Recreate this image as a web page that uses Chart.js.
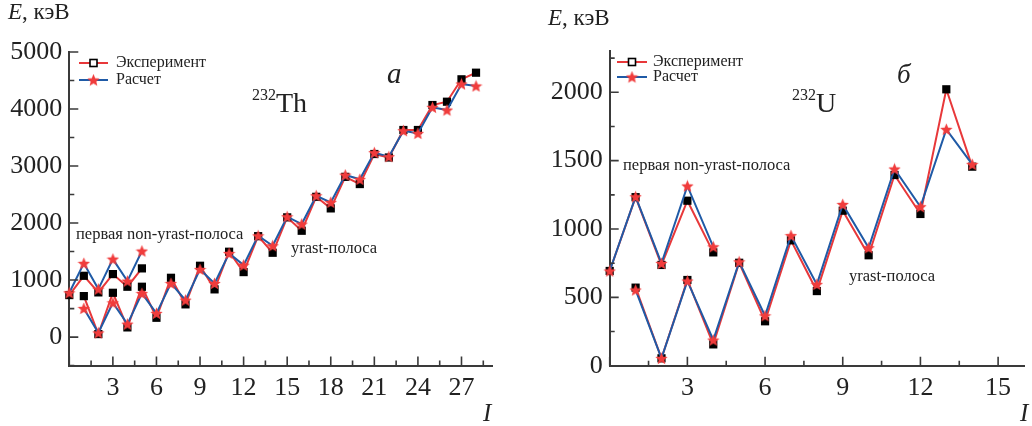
<!DOCTYPE html>
<html>
<head>
<meta charset="utf-8">
<script src="https://cdn.jsdelivr.net/npm/chart.js@4.4.1/dist/chart.umd.min.js"></script>
<style>
  html, body { margin: 0; padding: 0; background: #fff; }
  #wrap { position: relative; width: 1032px; height: 426px; overflow: hidden; }
  canvas { position: absolute; top: 0; }
</style>
</head>
<body>
<div id="wrap">
  <canvas id="thChart" width="500" height="426" style="left:0"></canvas>
  <canvas id="uChart" width="532" height="426" style="left:500px"></canvas>
</div>
<script>
// ---- 232Th (panel a) ----
const thUpperI    = [0, 1, 2, 3, 4, 5];
const thUpperExp  = [737, 1075, 784, 1105, 883, 1205];
const thUpperCalc = [777, 1293, 842, 1368, 982, 1509];
const thLowerI    = [1, 2, 3, 4, 5, 6, 7, 8, 9, 10, 11, 12, 13, 14, 15, 16, 17, 18, 19, 20, 21, 22, 23, 24, 25, 26, 27, 28];
const thLowerExp  = [719, 53, 777, 170, 883, 339, 1040, 574, 1251, 837, 1497, 1140, 1770, 1479, 2100, 1865, 2460, 2257, 2810, 2684, 3211, 3150, 3632, 3632, 4070, 4128, 4521, 4637];
const thLowerCalc = [503, 75, 602, 228, 766, 416, 942, 649, 1187, 942, 1468, 1263, 1777, 1602, 2111, 1982, 2479, 2363, 2842, 2767, 3235, 3164, 3620, 3573, 4030, 3982, 4439, 4404];
const thXLabels = [3, 6, 9, 12, 15, 18, 21, 24, 27];
const thYLabels = [0, 1000, 2000, 3000, 4000, 5000];

// ---- 232U (panel б) ----
const uUpperI    = [0, 1, 2, 3, 4];
const uUpperExp  = [693, 1233, 737, 1207, 829];
const uUpperCalc = [693, 1236, 749, 1315, 870];
const uLowerI    = [1, 2, 3, 4, 5, 6, 7, 8, 9, 10, 11, 12, 13, 14];
const uLowerExp  = [571, 54, 627, 156, 753, 325, 917, 546, 1134, 808, 1395, 1110, 2022, 1456];
const uLowerCalc = [554, 54, 620, 188, 760, 365, 952, 595, 1180, 863, 1439, 1163, 1729, 1473];
const uXLabels = [3, 6, 9, 12, 15];
const uYLabels = [0, 500, 1000, 1500, 2000];

const redLine = '#e8383a';
const blueLine = '#1f5aa6';
const starColor = '#f03c3c';
const axisColor = '#3a3a3a';
const serif = "'Liberation Serif', 'Times New Roman', serif";

Chart.defaults.font.family = serif;
Chart.defaults.color = '#222';

function makeStar(size, color) {
  const c = document.createElement('canvas');
  c.width = size; c.height = size;
  const g = c.getContext('2d');
  const cx = size / 2, cy = size / 2 + 0.5, R = size / 2, r = R * 0.45;
  g.fillStyle = color;
  g.beginPath();
  for (let i = 0; i < 10; i++) {
    const a = -Math.PI / 2 + i * Math.PI / 5;
    const rad = i % 2 ? r : R;
    g.lineTo(cx + rad * Math.cos(a), cy + rad * Math.sin(a));
  }
  g.closePath();
  g.fill();
  return c;
}
const star = makeStar(13, starColor);

function pts(xs, ys) {
  return xs.map((x, i) => ({ x: x, y: ys[i] }));
}

function calcSet(xs, ys) {
  return {
    label: 'Расчет', data: pts(xs, ys), showLine: true, clip: false,
    borderColor: blueLine, borderWidth: 2,
    pointStyle: star, pointRadius: 6
  };
}
function expSet(xs, ys) {
  return {
    label: 'Эксперимент', data: pts(xs, ys), showLine: true, clip: false,
    borderColor: redLine, borderWidth: 2,
    pointStyle: 'rect', pointRadius: 5.8,
    pointBackgroundColor: '#000', pointBorderColor: '#000', pointBorderWidth: 0
  };
}

function steps(lo, hi, step) {
  const out = [];
  for (let v = lo; v <= hi + 1e-9; v += step) out.push(Math.round(v * 100) / 100);
  return out;
}

// inward tick marks (major = labelled)
const inwardTicks = {
  id: 'inwardTicks',
  afterDraw(chart) {
    const { ctx, chartArea: a, scales: { x, y } } = chart;
    const xl = chart.options.plugins.inwardTicks.xLabels;
    const yl = chart.options.plugins.inwardTicks.yLabels;
    ctx.save();
    ctx.strokeStyle = axisColor;
    ctx.lineWidth = 1.6;
    ctx.beginPath();
    x.ticks.forEach(t => {
      const px = x.getPixelForValue(t.value);
      const len = xl.includes(t.value) || t.value === 0 ? 9 : 5;
      ctx.moveTo(px, a.bottom);
      ctx.lineTo(px, a.bottom - len);
    });
    y.ticks.forEach(t => {
      const py = y.getPixelForValue(t.value);
      const len = yl.includes(t.value) ? 9 : 5;
      ctx.moveTo(a.left, py);
      ctx.lineTo(a.left + len, py);
    });
    ctx.stroke();
    ctx.restore();
  }
};

// free text and legend
const annotations = {
  id: 'annotations',
  afterDraw(chart) {
    const ctx = chart.ctx;
    const o = chart.options.plugins.annotations;
    ctx.save();
    ctx.fillStyle = '#222';
    ctx.textBaseline = 'alphabetic';
    o.texts.forEach(run => {
      let x = run.x;
      run.parts.forEach(p => {
        ctx.font = p[1];
        ctx.fillText(p[0], x + (p[2] || 0), run.y + (p[3] || 0));
        x += ctx.measureText(p[0]).width + (p[2] || 0);
      });
    });
    // legend
    const L = o.legend;
    ctx.lineWidth = 2;
    ctx.font = '16px ' + serif;
    ctx.textBaseline = 'middle';
    const mid = (L.x1 + L.x2) / 2;
    ctx.strokeStyle = redLine;
    ctx.beginPath(); ctx.moveTo(L.x1, L.y1); ctx.lineTo(L.x2, L.y1); ctx.stroke();
    ctx.fillStyle = '#fff';
    ctx.fillRect(mid - 3.5, L.y1 - 3.5, 7, 7);
    ctx.strokeStyle = '#000'; ctx.lineWidth = 1.6;
    ctx.strokeRect(mid - 3.5, L.y1 - 3.5, 7, 7);
    ctx.strokeStyle = blueLine; ctx.lineWidth = 2;
    ctx.beginPath(); ctx.moveTo(L.x1, L.y2); ctx.lineTo(L.x2, L.y2); ctx.stroke();
    ctx.drawImage(star, mid - 6.5, L.y2 - 6.5);
    ctx.fillStyle = '#222';
    ctx.fillText('Эксперимент', L.tx, L.y1);
    ctx.fillText('Расчет', L.tx, L.y2);
    ctx.restore();
  }
};

function makeChart(id, cfg) {
  return new Chart(document.getElementById(id), {
    type: 'scatter',
    data: {
      datasets: [
        calcSet(cfg.upperI, cfg.upperCalc),
        calcSet(cfg.lowerI, cfg.lowerCalc),
        expSet(cfg.upperI, cfg.upperExp),
        expSet(cfg.lowerI, cfg.lowerExp)
      ]
    },
    options: {
      responsive: false,
      animation: false,
      layout: { padding: { left: 0, right: cfg.padRight, top: cfg.padTop, bottom: 0 } },
      plugins: {
        legend: { display: false },
        tooltip: { enabled: false },
        inwardTicks: { xLabels: cfg.xLabels, yLabels: cfg.yLabels },
        annotations: { texts: cfg.texts, legend: cfg.legend }
      },
      scales: {
        x: {
          type: 'linear', min: 0, max: cfg.xMax,
          grid: { display: false, drawTicks: false },
          border: { display: true, color: axisColor, width: 2 },
          afterBuildTicks: s => { s.ticks = steps(0, cfg.xMax, 1.5).map(v => ({ value: v })); },
          afterFit: s => { s.height = cfg.xHeight; },
          ticks: {
            padding: 7, autoSkip: false, maxRotation: 0, color: '#222',
            font: { size: 26 },
            callback: v => cfg.xLabels.includes(v) ? String(v) : ''
          }
        },
        y: {
          type: 'linear', min: cfg.yMin, max: cfg.yMax,
          grid: { display: false, drawTicks: false },
          border: { display: true, color: axisColor, width: 2 },
          afterBuildTicks: s => { s.ticks = steps(cfg.yMin, cfg.yMax, cfg.yMinor).map(v => ({ value: v })); },
          afterFit: s => { s.width = cfg.yWidth; },
          ticks: {
            padding: 7, autoSkip: false, color: '#222',
            font: { size: 26 },
            callback: v => cfg.yLabels.includes(v) ? String(v) : ''
          }
        }
      }
    },
    plugins: [inwardTicks, annotations]
  });
}

const it = (s) => 'italic ' + s + 'px ' + serif;
const rm = (s) => s + 'px ' + serif;

makeChart('thChart', {
  upperI: thUpperI, upperExp: thUpperExp, upperCalc: thUpperCalc,
  lowerI: thLowerI, lowerExp: thLowerExp, lowerCalc: thLowerCalc,
  xLabels: thXLabels, yLabels: thYLabels,
  xMax: 29.1, yMin: -500, yMax: 5000, yMinor: 500,
  padTop: 52, padRight: 6.7, yWidth: 69.3, xHeight: 60.4,
  texts: [
    { x: 8, y: 19, parts: [['E', it(23)], [', кэВ', rm(23)]] },
    { x: 252, y: 100, parts: [['232', rm(16)], ['Th', rm(28), 0, 12]] },
    { x: 387, y: 83, parts: [['a', it(29)]] },
    { x: 76, y: 239, parts: [['первая non-yrast-полоса', rm(16.5)]] },
    { x: 291, y: 253, parts: [['yrast-полоса', rm(16.5)]] },
    { x: 483, y: 421, parts: [['I', it(25)]] }
  ],
  legend: { x1: 79, x2: 108, y1: 63, y2: 80, tx: 116 }
});

makeChart('uChart', {
  upperI: uUpperI, upperExp: uUpperExp, upperCalc: uUpperCalc,
  lowerI: uLowerI, lowerExp: uLowerExp, lowerCalc: uLowerCalc,
  xLabels: uXLabels, yLabels: uYLabels,
  xMax: 16, yMin: 0, yMax: 2300, yMinor: 250,
  padTop: 51.3, padRight: 0, yWidth: 109.7, xHeight: 60.3,
  texts: [
    { x: 48, y: 25, parts: [['E', it(23)], [', кэВ', rm(23)]] },
    { x: 292, y: 100, parts: [['232', rm(16)], ['U', rm(28), 0, 12]] },
    { x: 397, y: 83, parts: [['б', it(27)]] },
    { x: 123, y: 170, parts: [['первая non-yrast-полоса', rm(16.5)]] },
    { x: 349, y: 281, parts: [['yrast-полоса', rm(16.5)]] },
    { x: 520, y: 421, parts: [['I', it(25)]] }
  ],
  legend: { x1: 117, x2: 147, y1: 62, y2: 77, tx: 153 }
});
</script>
</body>
</html>
